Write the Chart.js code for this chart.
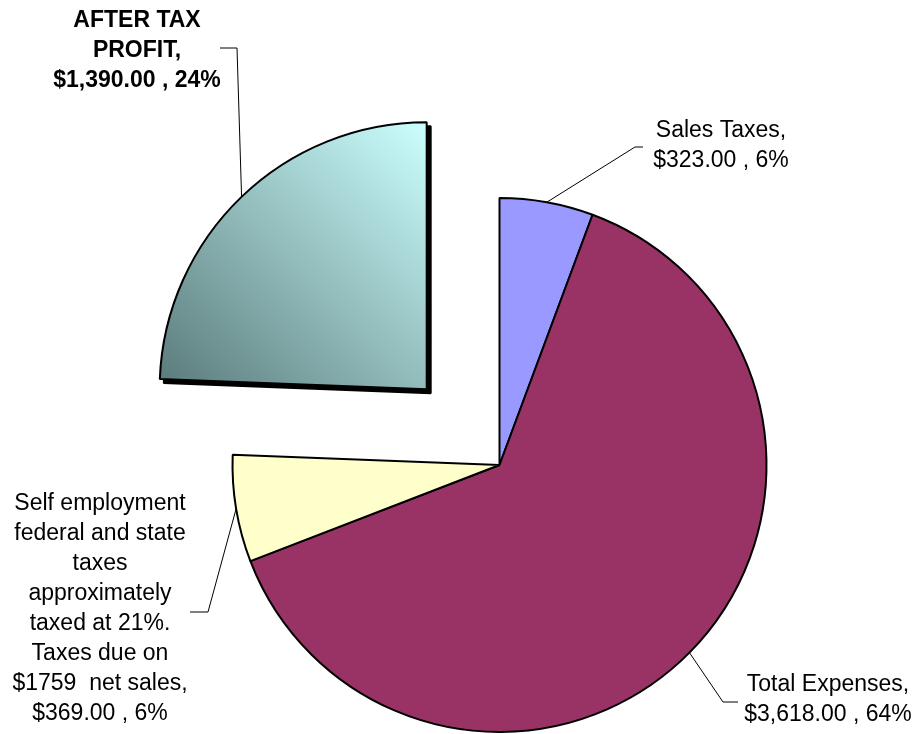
<!DOCTYPE html>
<html><head><meta charset="utf-8">
<script src="https://cdn.jsdelivr.net/npm/chart.js@4.4.1/dist/chart.umd.min.js"></script>
<style>html,body{margin:0;padding:0;background:#fff}canvas{display:block}</style>
</head><body>
<canvas id="c" width="915" height="734"></canvas>
<script>
// ---- data ----
const categories = ['Sales Taxes', 'Total Expenses', 'Self employment federal and state taxes approximately taxed at 21%. Taxes due on $1759  net sales', 'AFTER TAX PROFIT'];
const amounts = [323, 3618, 369, 1390];
const amountLabels = ['$323.00', '$3,618.00', '$369.00', '$1,390.00'];
const percentLabels = ['6%', '64%', '6%', '24%'];
const labelLines = [
  ['Sales Taxes,', '$323.00 , 6%'],
  ['Total Expenses,', '$3,618.00 , 64%'],
  ['Self employment', 'federal and state', 'taxes', 'approximately', 'taxed at 21%.', 'Taxes due on', '$1759  net sales,', '$369.00 , 6%'],
  ['AFTER TAX', 'PROFIT,', '$1,390.00 , 24%']
];
const sliceColors = ['#9999FF', '#993366', '#FFFFCC', null];
const explode = [0, 0, 0, 420];

// ---- layout / style ----
const RADIUS = 267;
const SHADOW = 4;
const FONT_PX = 23;
const LINE_H = 30;
const labelLayout = [
  {x: 721, y: 137, bold: false, elbow: [635, 147], end: [643, 147]},
  {x: 828, y: 691, bold: false, elbow: [723, 702], end: [738, 702]},
  {x: 100, y: 510, bold: false, elbow: [208, 612], end: [190, 612]},
  {x: 137, y: 27,  bold: true,  elbow: [237, 48],  end: [220, 48]}
];

function profitGradient(context) {
  const chart = context.chart;
  const a = chart.chartArea;
  if (!a) return '#99CCCC';
  const cx = (a.left + a.right) / 2, cy = (a.top + a.bottom) / 2;
  const g = chart.ctx.createLinearGradient(cx - RADIUS, cy, cx, cy - RADIUS);
  g.addColorStop(0, '#5A7A7A');
  g.addColorStop(1, '#CCFFFF');
  return g;
}

const piePlugin = {
  id: 'pieExtras',
  beforeDatasetsDraw(chart) {
    const meta = chart.getDatasetMeta(0);
    const ctx = chart.ctx;
    meta.data.forEach((arc, i) => {
      if (!explode[i]) return;
      const proxy = Object.create(arc);
      proxy.options = Object.assign({}, arc.options, {backgroundColor: '#000', borderColor: '#000'});
      ctx.save();
      ctx.translate(SHADOW, SHADOW);
      Chart.ArcElement.prototype.draw.call(proxy, ctx);
      ctx.restore();
    });
  },
  afterDatasetsDraw(chart) {
    const meta = chart.getDatasetMeta(0);
    const ctx = chart.ctx;
    ctx.save();
    meta.data.forEach((arc, i) => {
      const mid = (arc.startAngle + arc.endAngle) / 2;
      const t = (arc.options.offset || 0) / 4;
      const ax = arc.x + Math.cos(mid) * (arc.outerRadius + t);
      const ay = arc.y + Math.sin(mid) * (arc.outerRadius + t);
      const L = labelLayout[i];
      ctx.beginPath();
      ctx.strokeStyle = '#000';
      ctx.lineWidth = 1;
      ctx.moveTo(ax, ay);
      ctx.lineTo(L.elbow[0], L.elbow[1]);
      ctx.lineTo(L.end[0], L.end[1]);
      ctx.stroke();
      ctx.fillStyle = '#000';
      ctx.textAlign = 'center';
      ctx.textBaseline = 'alphabetic';
      ctx.font = (L.bold ? 'bold ' : '') + FONT_PX + 'px "Liberation Sans", Arial, sans-serif';
      labelLines[i].forEach((line, k) => ctx.fillText(line, L.x, L.y + k * LINE_H));
    });
    ctx.restore();
  }
};

new Chart(document.getElementById('c'), {
  type: 'pie',
  data: {
    labels: categories,
    datasets: [{
      data: amounts,
      backgroundColor: (c) => sliceColors[c.dataIndex] || profitGradient(c),
      borderColor: '#000',
      borderWidth: 2,
      offset: explode
    }]
  },
  options: {
    responsive: false,
    devicePixelRatio: 1,
    animation: false,
    radius: RADIUS,
    layout: {padding: {left: 84, right: 0, top: 196, bottom: 0}},
    plugins: {legend: {display: false}, tooltip: {enabled: false}, title: {display: false}}
  },
  plugins: [piePlugin]
});
</script>
</body></html>
